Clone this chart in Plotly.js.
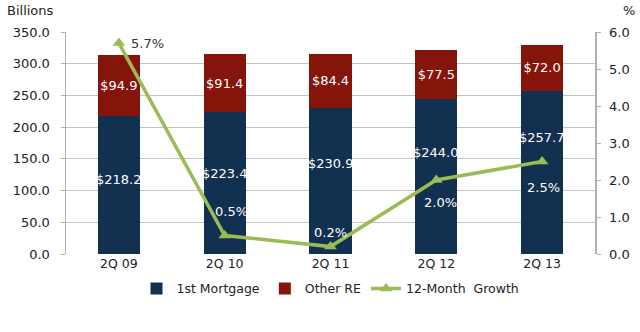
<!DOCTYPE html>
<html><head><meta charset="utf-8">
<script src="https://cdn.plot.ly/plotly-3.0.1.min.js"></script>
<style>body{margin:0;background:#fff}#c{width:640px;height:332px}</style>
</head><body><div id="c"></div>
<script>
const categories = ['2Q 09','2Q 10','2Q 11','2Q 12','2Q 13'];
const firstMortgage = [218.2, 223.4, 230.9, 244.0, 257.7];
const otherRE = [94.9, 91.4, 84.4, 77.5, 72.0];
const growth = [5.7, 0.5, 0.2, 2.0, 2.5];
const leftTicks = [0,50,100,150,200,250,300,350];
const rightTicks = [0,1,2,3,4,5,6];

const FONT = 'DejaVu Sans, Verdana, sans-serif';
const money = v => '$' + v.toFixed(1);

const traces = [
  {type:'bar', name:'1st Mortgage', x:categories, y:firstMortgage,
   marker:{color:'#12304f'}, hoverinfo:'skip'},
  {type:'bar', name:'Other RE', x:categories, y:otherRE,
   marker:{color:'#85140a'}, text:otherRE.map(money), textposition:'inside', textangle:0,
   insidetextanchor:'middle', constraintext:'none', cliponaxis:false,
   textfont:{color:'#ffffff', size:13, family:FONT}, hoverinfo:'skip'},
  {type:'scatter', mode:'lines+markers', name:'12-Month  Growth', x:categories, y:growth,
   yaxis:'y2', line:{color:'#9bbb59', width:3.5},
   marker:{symbol:'triangle-up', size:11, color:'#9bbb59'},
   cliponaxis:false, hoverinfo:'skip'}
];

// 1st Mortgage value labels, anchored at the segment middle (shift is styling only)
const mortShift = [5, 10, 17, 24, 35];
const mortLabels = firstMortgage.map((v,i) => ({
  text: money(v), x: categories[i], y: v/2, xref:'x', yref:'y',
  yshift: mortShift[i], showarrow:false,
  font:{size:13, family:FONT, color:'#ffffff'}
}));

// growth labels placed at the data points (offsets are styling only)
const labelShift = [[29,0],[7,24],[0,14],[4,-22],[1,-26]];
const labelColor = ['#333333','#ffffff','#ffffff','#ffffff','#ffffff'];
const growthLabels = growth.map((v,i) => ({
  text: v.toFixed(1)+'%', x: categories[i], y: v, xref:'x', yref:'y2',
  xshift: labelShift[i][0], yshift: labelShift[i][1], showarrow:false,
  font:{size:13, family:FONT, color:labelColor[i]}
}));

const layout = {
  width:640, height:332, margin:{l:66, r:45, t:32, b:78},
  paper_bgcolor:'#ffffff', plot_bgcolor:'#ffffff',
  barmode:'stack', bargap:0.6,
  font:{family:FONT, size:12.5, color:'#222'},
  showlegend:true,
  legend:{orientation:'h', x:0.5, xanchor:'center', y:-0.09, yanchor:'top',
          font:{size:12.5, family:FONT, color:'#222'}, traceorder:'normal'},
  xaxis:{type:'category', showgrid:false, showline:false, ticks:'', zeroline:false,
         tickfont:{size:12.5, family:FONT, color:'#222'}},
  yaxis:{range:[0,350], tickvals:leftTicks, ticktext:leftTicks.map(v=>v.toFixed(1)),
         showgrid:true, gridcolor:'#c4c4c4', gridwidth:1.2, showline:true, linecolor:'#b0b0b0', linewidth:1.5,
         ticks:'outside', ticklen:4, tickcolor:'#b0b0b0', zeroline:false, ticklabelstandoff:8,
         tickfont:{size:13, family:FONT, color:'#222'}},
  yaxis2:{range:[0,6], overlaying:'y', side:'right', tickvals:rightTicks, ticktext:rightTicks.map(v=>v.toFixed(1)),
          showgrid:false, showline:true, linecolor:'#b0b0b0', linewidth:1.5,
          ticks:'outside', ticklen:4, tickcolor:'#b0b0b0', zeroline:false, ticklabelstandoff:6,
          tickfont:{size:13, family:FONT, color:'#222'}},
  annotations:[
    {text:'Billions', xref:'paper', yref:'paper', x:-0.115, y:1.0, yshift:22, xanchor:'left', yanchor:'middle',
     showarrow:false, font:{size:13, family:FONT, color:'#222'}},
    {text:'%', xref:'paper', yref:'paper', x:1.05, y:1.0, yshift:22, xanchor:'left', yanchor:'middle',
     showarrow:false, font:{size:13, family:FONT, color:'#222'}}
  ].concat(mortLabels, growthLabels)
};
Plotly.newPlot('c', traces, layout, {staticPlot:true, displayModeBar:false});
</script></body></html>
